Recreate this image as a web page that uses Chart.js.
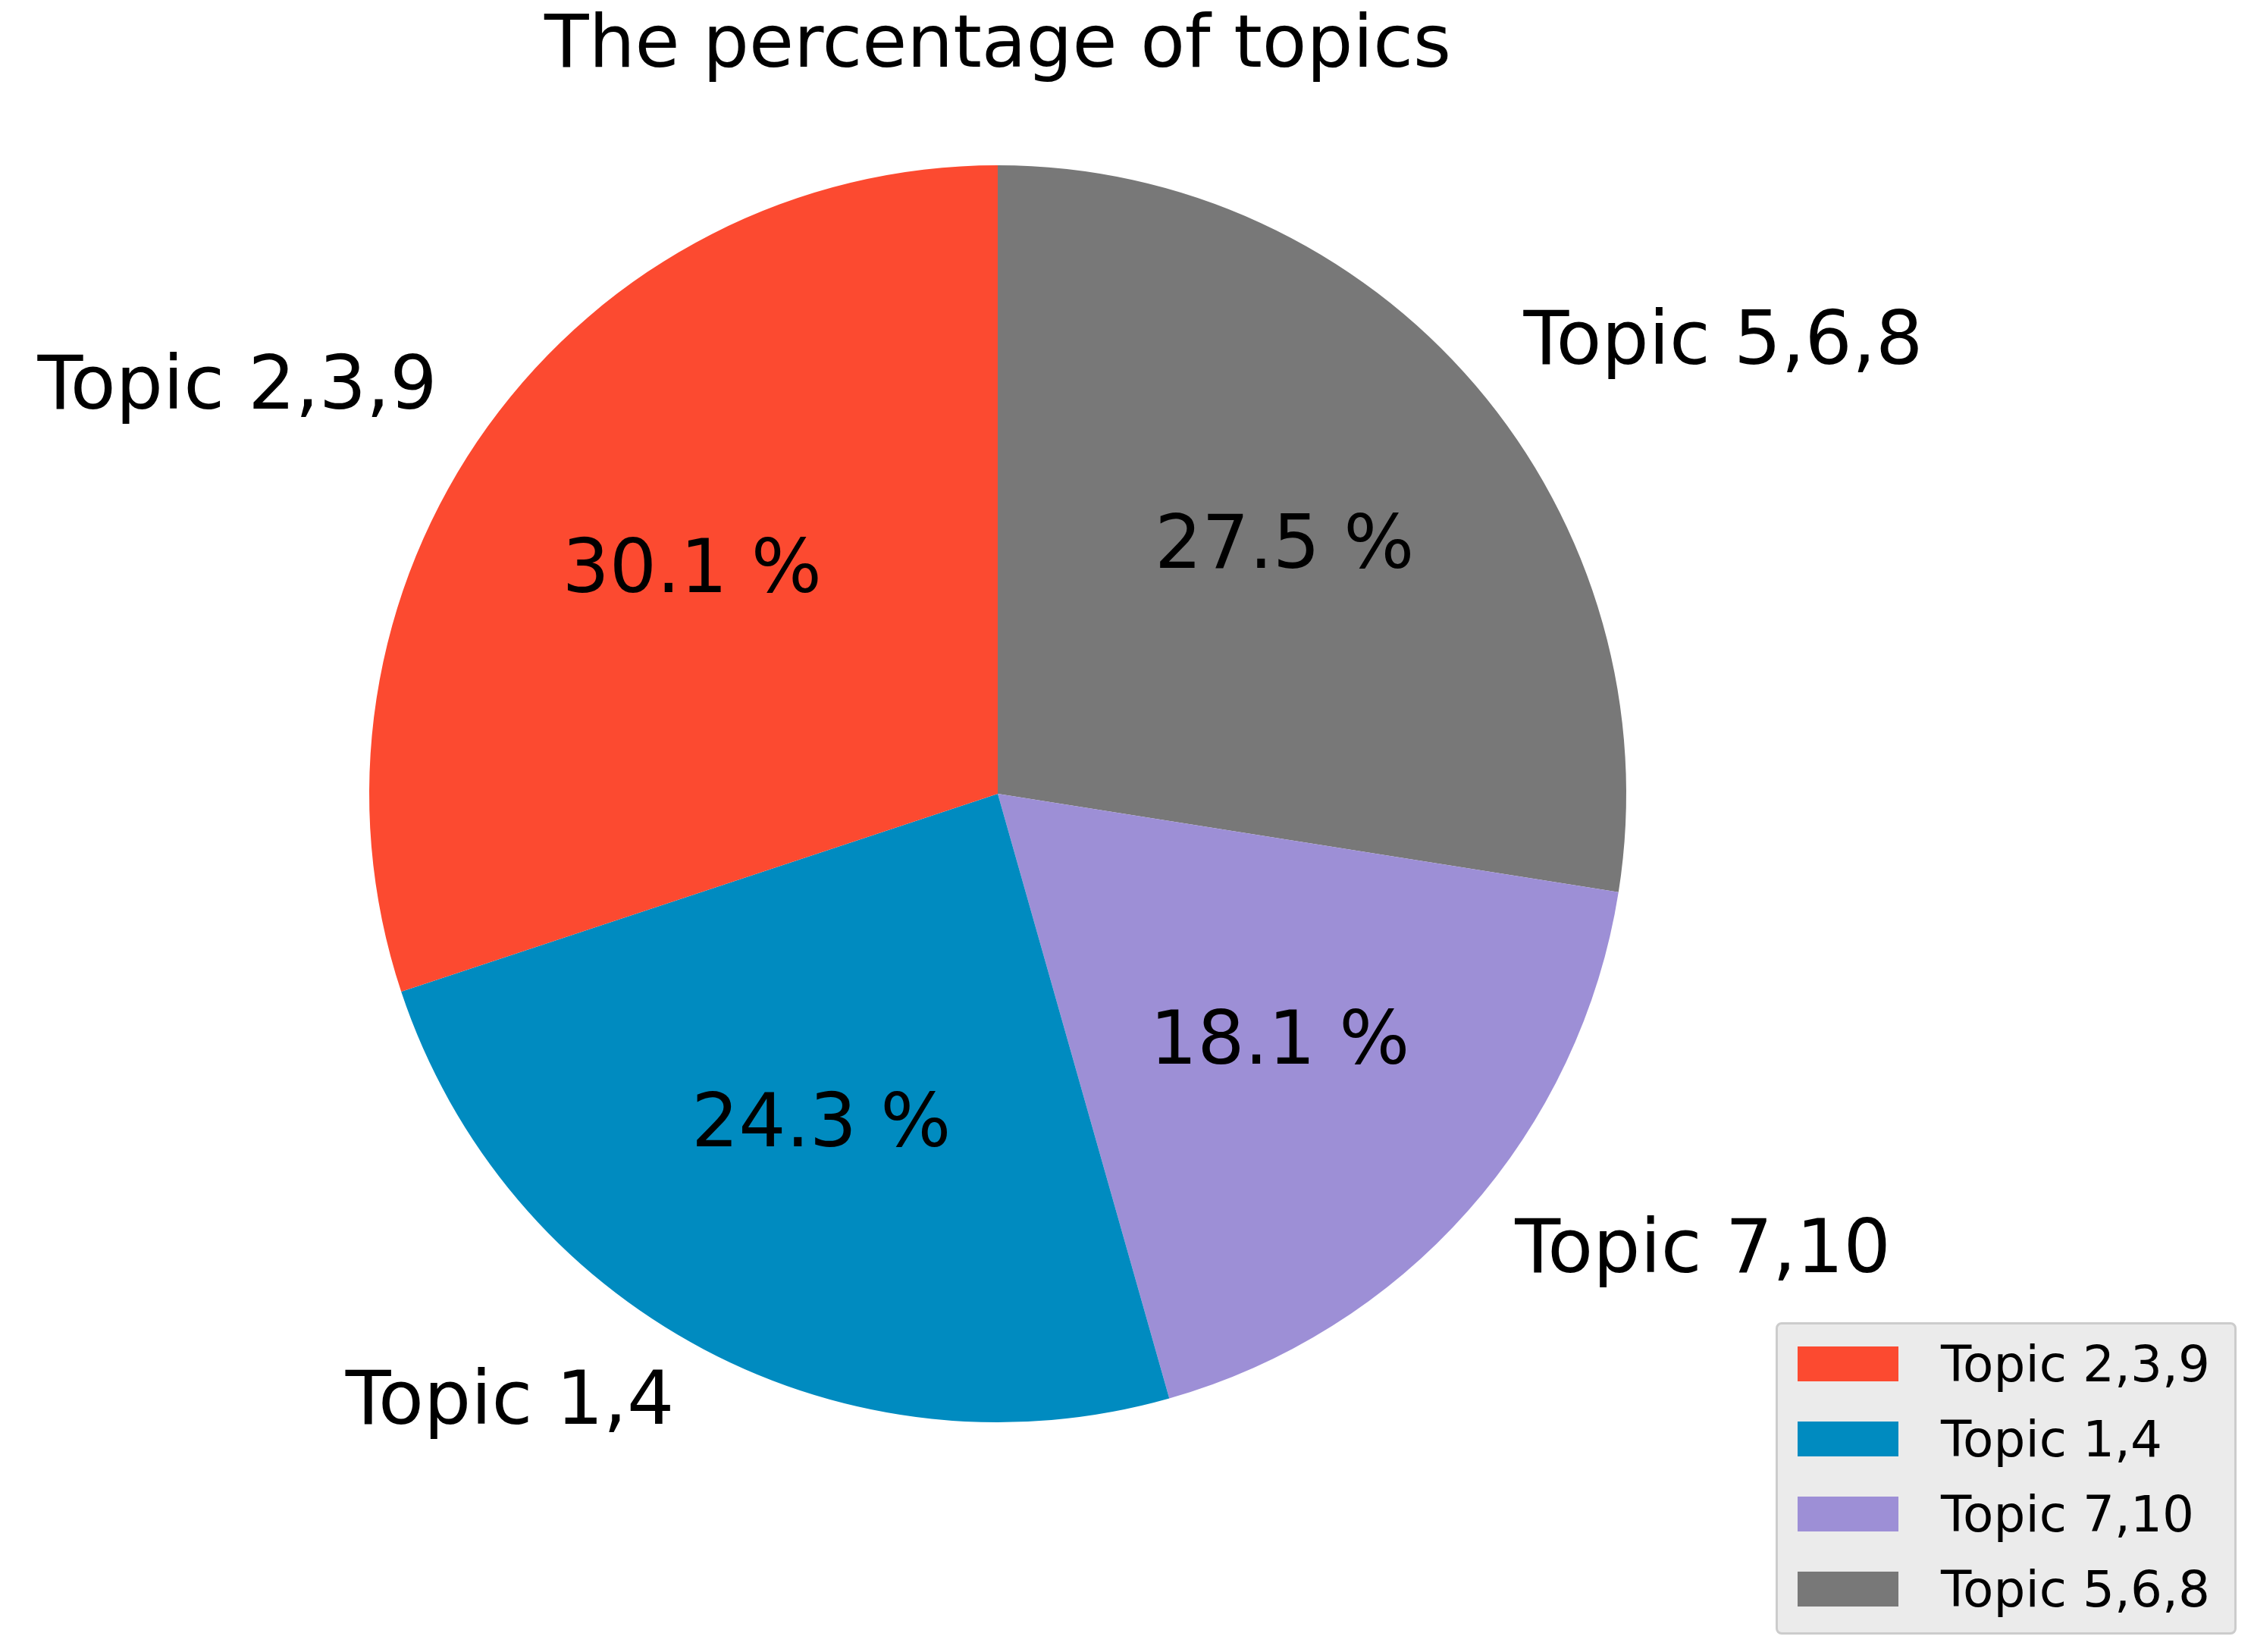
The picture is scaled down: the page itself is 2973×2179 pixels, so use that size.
<!DOCTYPE html>
<html>
<head>
<meta charset="utf-8">
<script src="https://cdn.jsdelivr.net/npm/chart.js@4"></script>
<style>
  html, body { margin: 0; padding: 0; background: #ffffff; }
  #wrap { position: relative; width: 2973px; height: 2179px; }
  #legend {
    position: absolute; left: 2342px; top: 1744px; width: 608px; height: 412px;
    box-sizing: border-box; background: #ebebeb; border: 3px solid #cccccc; border-radius: 8px;
    font-family: "DejaVu Sans", sans-serif; font-size: 66px; color: #000;
  }
  .row { position: absolute; left: 26px; height: 80px; display: flex; align-items: center; }
  .sw { width: 133px; height: 46px; margin-right: 56px; }
</style>
</head>
<body>
<div id="wrap">
  <canvas id="pie" width="2973" height="2179"></canvas>
  <div id="legend"></div>
</div>
<script>
// Etichette e valori (ordine come nella legenda)
const topics = ['Topic 2,3,9', 'Topic 1,4', 'Topic 7,10', 'Topic 5,6,8'];
const percents = [30.1, 24.3, 18.1, 27.5];
const colors = ['#fc4a30', '#008bc0', '#9d8fd6', '#787878'];

// Chart.js disegna in senso orario: inverto l'ordine per riprodurre il verso antiorario
const order = [3, 2, 1, 0];

const FONT = '"DejaVu Sans", sans-serif';

const labelsPlugin = {
    id: 'pieLabels',
    afterDraw(chart) {
        const ctx = chart.ctx;
        ctx.save();
        ctx.fillStyle = '#000';
        // Titolo
        ctx.font = '96px ' + FONT;
        ctx.textAlign = 'center';
        ctx.textBaseline = 'middle';
        ctx.fillText('The percentage of topics', chart.chartArea.left + (chart.chartArea.right - chart.chartArea.left) / 2, 63);

        const meta = chart.getDatasetMeta(0);
        meta.data.forEach((arc, i) => {
            const p = arc.getProps(['startAngle', 'endAngle', 'x', 'y', 'outerRadius'], true);
            const mid = (p.startAngle + p.endAngle) / 2;
            const c = Math.cos(mid), s = Math.sin(mid);
            ctx.font = '98px ' + FONT;
            // Percentuale dentro la fetta
            ctx.textAlign = 'center';
            ctx.fillText(chart.data.datasets[0].data[i].toFixed(1) + ' %', p.x + c * p.outerRadius * 0.6, p.y + s * p.outerRadius * 0.6);
            // Nome fuori dalla fetta
            ctx.textAlign = c >= 0 ? 'left' : 'right';
            ctx.fillText(chart.data.labels[i], p.x + c * p.outerRadius * 1.1, p.y + s * p.outerRadius * 1.1);
        });
        ctx.restore();
    }
};

new Chart(document.getElementById('pie'), {
    type: 'pie',
    data: {
        labels: order.map(i => topics[i]),
        datasets: [{
            data: order.map(i => percents[i]),
            backgroundColor: order.map(i => colors[i]),
            borderWidth: 0
        }]
    },
    options: {
        responsive: false,
        animation: false,
        layout: { padding: { left: 487, right: 828, top: 218, bottom: 303 } },
        plugins: {
            legend: { display: false },
            tooltip: { enabled: false }
        }
    },
    plugins: [labelsPlugin]
});

// Legenda HTML
const legend = document.getElementById('legend');
topics.forEach((t, i) => {
    const row = document.createElement('div');
    row.className = 'row';
    row.style.top = (12 + i * 99) + 'px';
    row.innerHTML = `<div class="sw" style="background:${colors[i]}"></div><span>${t}</span>`;
    legend.appendChild(row);
});
</script>
</body>
</html>
